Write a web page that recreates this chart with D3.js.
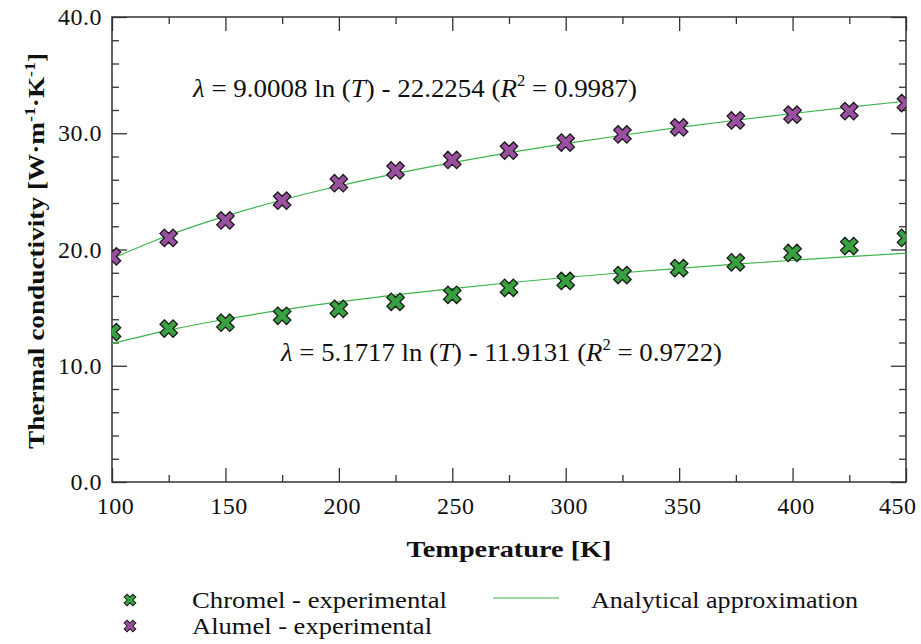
<!DOCTYPE html>
<html>
<head>
<meta charset="utf-8">
<script src="https://cdn.jsdelivr.net/npm/d3@7"></script>
<style>
  body { margin: 0; background: #fff; }
  svg text { font-family: "Liberation Serif", "Times New Roman", Times, serif; fill: #111; }
</style>
</head>
<body>
<svg id="chart"></svg>
<script>
// temperatures [K]
const temps = [100, 125, 150, 175, 200, 225, 250, 275, 300, 325, 350, 375, 400, 425, 450];

// experimental points
const chromel = [12.9, 13.2, 13.7, 14.3, 14.9, 15.5, 16.1, 16.7, 17.3, 17.8, 18.4, 18.9, 19.7, 20.3, 21.0];
const alumel = [19.4, 21.0, 22.5, 24.2, 25.7, 26.8, 27.7, 28.5, 29.2, 29.9, 30.5, 31.1, 31.6, 31.9, 32.6];

// analytical approximation curves read at the same temperatures
const chromelFit = [11.90, 13.06, 14.00, 14.80, 15.49, 16.10, 16.64, 17.14, 17.59, 18.00, 18.38, 18.74, 19.07, 19.39, 19.68];
const alumelFit = [19.22, 21.23, 22.87, 24.26, 25.46, 26.52, 27.47, 28.33, 29.11, 29.83, 30.50, 31.12, 31.70, 32.25, 32.76];

const xMajor = [100, 150, 200, 250, 300, 350, 400, 450];
const xMinor = [125, 175, 225, 275, 325, 375, 425];
const yMajor = [0, 10, 20, 30, 40];
const yMinor = [2, 4, 6, 8, 12, 14, 16, 18, 22, 24, 26, 28, 32, 34, 36, 38];

const W = 921, H = 644;
const margin = { top: 17, right: 15, bottom: 162, left: 112 },
  width = W - margin.left - margin.right,
  height = H - margin.top - margin.bottom;

const lineColor = "#3cb44b";
const green = "#37a03f";
const purple = "#9b4fa0";
const serif = "Liberation Serif, Times New Roman, serif";

const root = d3.select("#chart").attr("width", W).attr("height", H);

const svg = root.append("g")
  .attr("transform", `translate(${margin.left},${margin.top})`);

const x = d3.scaleLinear().domain([100, 450]).range([0, width]);
const y = d3.scaleLinear().domain([0, 40]).range([height, 0]);

svg.append("clipPath").attr("id", "plot-clip")
  .append("rect").attr("width", width).attr("height", height);

// ticks on all four sides, pointing inward
function ticks(axis, vals, size) {
  return axis.tickValues(vals).tickSize(-size).tickSizeOuter(0).tickFormat("");
}

function styleAxis(g) {
  g.attr("font-family", serif);
  g.select(".domain").remove();
  g.selectAll(".tick line").attr("stroke", "#333").attr("stroke-width", 1.3);
  g.selectAll(".tick text")
    .attr("fill", "#111")
    .style("font-size", "24px")
    .style("letter-spacing", "0.5px");
}

svg.append("g").attr("transform", `translate(0,${height})`)
  .call(d3.axisBottom(x).tickValues(xMajor).tickSize(-14).tickPadding(15).tickFormat(d3.format("d")))
  .call(styleAxis)
  .selectAll(".tick text")
  .attr("dx", 3)
  .filter(d => d === 450)
  .attr("text-anchor", "end")
  .attr("dx", 10);
svg.append("g").attr("transform", `translate(0,${height})`)
  .call(ticks(d3.axisBottom(x), xMinor, 7)).call(styleAxis);
svg.append("g").call(ticks(d3.axisTop(x), xMajor, 14)).call(styleAxis);
svg.append("g").call(ticks(d3.axisTop(x), xMinor, 7)).call(styleAxis);

svg.append("g")
  .call(d3.axisLeft(y).tickValues(yMajor).tickSize(-15).tickPadding(10).tickFormat(d3.format(".1f")))
  .call(styleAxis);
svg.append("g").call(ticks(d3.axisLeft(y), yMinor, 7)).call(styleAxis);
svg.append("g").attr("transform", `translate(${width},0)`)
  .call(ticks(d3.axisRight(y), yMajor, 15)).call(styleAxis);
svg.append("g").attr("transform", `translate(${width},0)`)
  .call(ticks(d3.axisRight(y), yMinor, 7)).call(styleAxis);

// frame
svg.append("rect")
  .attr("width", width).attr("height", height)
  .attr("fill", "none").attr("stroke", "#333").attr("stroke-width", 1.5);

// fitted curves
const line = d3.line().x(d => x(d[0])).y(d => y(d[1])).curve(d3.curveMonotoneX);
const plot = svg.append("g").attr("clip-path", "url(#plot-clip)");

[chromelFit, alumelFit].forEach(vals => {
  plot.append("path")
    .datum(temps.map((t, i) => [t, vals[i]]))
    .attr("d", line)
    .attr("fill", "none")
    .attr("stroke", lineColor)
    .attr("stroke-width", 1.2);
});

// X-shaped markers
const xMark = d3.symbol().type(d3.symbolCross);

function drawMarkers(vals, color) {
  plot.selectAll(null)
    .data(temps.map((t, i) => [t, vals[i]]))
    .join("path")
    .attr("d", xMark.size(190)())
    .attr("transform", d => `translate(${x(d[0])},${y(d[1])}) rotate(45)`)
    .attr("fill", color)
    .attr("stroke", "#1a1a1a")
    .attr("stroke-width", 1.3);
}
drawMarkers(chromel, green);
drawMarkers(alumel, purple);

// equation labels
function equation(px, py, len, a, b, r2) {
  const t = svg.append("text")
    .attr("x", px).attr("y", py)
    .attr("textLength", len).attr("lengthAdjust", "spacingAndGlyphs")
    .style("font-size", "26px");
  t.append("tspan").style("font-style", "italic").text("λ");
  t.append("tspan").text(` = ${a} ln (`);
  t.append("tspan").style("font-style", "italic").text("T");
  t.append("tspan").text(`) - ${b} (`);
  t.append("tspan").style("font-style", "italic").text("R");
  t.append("tspan").attr("dy", -11).style("font-size", "16px").text("2");
  t.append("tspan").attr("dy", 11).text(` = ${r2})`);
}
equation(193 - margin.left, 97 - margin.top, 444, "9.0008", "22.2254", "0.9987");
equation(281 - margin.left, 361 - margin.top, 441, "5.1717", "11.9131", "0.9722");

// axis titles
svg.append("text")
  .attr("x", width / 2).attr("y", 557 - margin.top)
  .attr("text-anchor", "middle")
  .attr("textLength", 205).attr("lengthAdjust", "spacingAndGlyphs")
  .style("font-size", "23px").style("font-weight", "bold")
  .text("Temperature [K]");

const yt = svg.append("text")
  .attr("transform", `translate(${44 - margin.left},${251 - margin.top}) rotate(-90)`)
  .attr("text-anchor", "middle")
  .attr("textLength", 396).attr("lengthAdjust", "spacingAndGlyphs")
  .style("font-size", "23px").style("font-weight", "bold");
yt.append("tspan").text("Thermal conductivity [W·m");
yt.append("tspan").attr("dy", -9).style("font-size", "15px").text("-1");
yt.append("tspan").attr("dy", 9).text("·K");
yt.append("tspan").attr("dy", -9).style("font-size", "15px").text("-1");
yt.append("tspan").attr("dy", 9).text("]");

// legend
const legend = root.append("g");
const legendItems = [
  { label: "Chromel - experimental", color: green, y: 600, len: 255 },
  { label: "Alumel - experimental", color: purple, y: 626, len: 240 }
];
legendItems.forEach(d => {
  legend.append("path")
    .attr("d", d3.symbol().type(d3.symbolCross).size(85)())
    .attr("transform", `translate(130,${d.y}) rotate(45)`)
    .attr("fill", d.color).attr("stroke", "#1a1a1a").attr("stroke-width", 1);
  legend.append("text")
    .attr("x", 192).attr("y", d.y + 8)
    .attr("textLength", d.len).attr("lengthAdjust", "spacingAndGlyphs")
    .style("font-size", "23px")
    .text(d.label);
});
legend.append("line")
  .attr("x1", 493).attr("x2", 559).attr("y1", 598).attr("y2", 598)
  .attr("stroke", lineColor).attr("stroke-width", 1.2);
legend.append("text")
  .attr("x", 591).attr("y", 608)
  .attr("textLength", 267).attr("lengthAdjust", "spacingAndGlyphs")
  .style("font-size", "23px")
  .text("Analytical approximation");
</script>
</body>
</html>
